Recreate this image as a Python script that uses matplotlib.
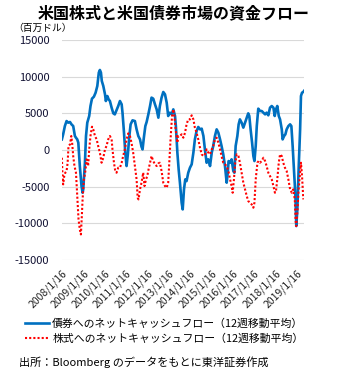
import numpy as np
import matplotlib
matplotlib.use("Agg")
import matplotlib.pyplot as plt

plt.rcParams['font.family'] = ['Noto Sans CJK JP', 'DejaVu Sans']

# 債券へのネットキャッシュフロー（12週移動平均）, 百万ドル
bond_t = [2008.04, 2008.10, 2008.18, 2008.26, 2008.34, 2008.42, 2008.49, 2008.57, 2008.65, 2008.70,
          2008.76, 2008.81, 2008.88, 2008.96, 2009.01, 2009.04, 2009.12, 2009.17, 2009.23, 2009.32,
          2009.38, 2009.45, 2009.54, 2009.62, 2009.70, 2009.77, 2009.82, 2009.87, 2009.91, 2009.98,
          2010.06, 2010.10, 2010.17, 2010.23, 2010.29, 2010.37, 2010.45, 2010.52, 2010.60, 2010.68,
          2010.76, 2010.84, 2010.88, 2010.95, 2011.01, 2011.07, 2011.13, 2011.20, 2011.26, 2011.35,
          2011.46, 2011.54, 2011.62, 2011.70, 2011.77, 2011.82, 2011.88, 2011.95, 2012.01, 2012.09,
          2012.17, 2012.24, 2012.32, 2012.40, 2012.48, 2012.56, 2012.63, 2012.71, 2012.79, 2012.87,
          2012.95, 2013.02, 2013.10, 2013.18, 2013.26, 2013.34, 2013.38, 2013.45, 2013.51, 2013.57,
          2013.65, 2013.70, 2013.76, 2013.82, 2013.88, 2013.96, 2014.04, 2014.12, 2014.20, 2014.27,
          2014.35, 2014.43, 2014.51, 2014.59, 2014.67, 2014.74, 2014.82, 2014.90, 2014.98, 2015.06,
          2015.13, 2015.21, 2015.29, 2015.37, 2015.45, 2015.52, 2015.60, 2015.68, 2015.76, 2015.81,
          2015.85, 2015.92, 2015.99, 2016.07, 2016.12, 2016.18, 2016.26, 2016.32, 2016.38, 2016.46,
          2016.54, 2016.62, 2016.70, 2016.77, 2016.82, 2016.88, 2016.95, 2017.01, 2017.06, 2017.12,
          2017.17, 2017.24, 2017.32, 2017.40, 2017.48, 2017.56, 2017.63, 2017.71, 2017.79, 2017.87,
          2017.95, 2018.01, 2018.07, 2018.13, 2018.20, 2018.26, 2018.34, 2018.38, 2018.45, 2018.51,
          2018.57, 2018.65, 2018.73, 2018.79, 2018.85, 2018.91, 2018.98, 2019.02, 2019.07, 2019.13,
          2019.20, 2019.24, 2019.29, 2019.35, 2019.38]
bond = [1450, 2140, 3270, 3950, 3730, 3820, 3500, 3270, 1910, 1680,
        1450, 1000, -2180, -4910, -5820, -5360, -1730, 1910, 3730, 4640,
        6000, 7000, 7270, 7820, 8730, 10550, 10910, 10550, 9410, 8730,
        7590, 6680, 7360, 6910, 6680, 5770, 5000, 4860, 5450, 6000,
        6680, 6230, 5090, 2360, -360, -2180, -590, 1910, 3500, 4050,
        3950, 2820, 1910, 1450, 450, 90, 1680, 3270, 3820, 4860,
        6000, 7140, 7000, 6230, 5540, 4410, 6000, 7140, 7910, 7590,
        6450, 4640, 5090, 4860, 5540, 4640, 3270, -360, -2640, -4450,
        -7180, -8090, -5360, -4000, -4230, -3090, -2410, -1950, -360, 1450,
        2590, 3140, 2820, 2910, 1910, 90, -1730, -1270, -2180, -360,
        550, 1910, 2820, 2360, 1450, 550, -590, -2180, -4450, -3090,
        -1500, -1730, -1270, -2860, -3090, 550, 1910, 3500, 4180, 3730,
        3050, 3730, 4410, 5000, 4640, 2820, 1000, -820, -1500, 550,
        3270, 5640, 5320, 5320, 5090, 4860, 5090, 4730, 5770, 6000,
        5770, 4640, 5540, 6000, 4640, 4180, 2820, 1450, 1910, 2140,
        2820, 3270, 3500, 3270, 550, -2640, -6270, -10360, -8090, -2640,
        2820, 7360, 7820, 7910, 8050]

# 株式へのネットキャッシュフロー（12週移動平均）, 百万ドル
stock_t = [2008.04, 2008.07, 2008.10, 2008.15, 2008.20, 2008.26, 2008.31, 2008.35, 2008.42, 2008.48,
           2008.52, 2008.57, 2008.63, 2008.70, 2008.76, 2008.82, 2008.88, 2008.93, 2008.96, 2009.01,
           2009.07, 2009.13, 2009.20, 2009.27, 2009.32, 2009.38, 2009.45, 2009.51, 2009.59, 2009.67,
           2009.74, 2009.82, 2009.90, 2009.98, 2010.06, 2010.13, 2010.21, 2010.29, 2010.37, 2010.41,
           2010.48, 2010.54, 2010.60, 2010.68, 2010.76, 2010.84, 2010.91, 2010.99, 2011.07, 2011.15,
           2011.23, 2011.30, 2011.38, 2011.46, 2011.54, 2011.59, 2011.63, 2011.70, 2011.77, 2011.85,
           2011.91, 2011.98, 2012.04, 2012.10, 2012.17, 2012.24, 2012.32, 2012.40, 2012.48, 2012.56,
           2012.63, 2012.71, 2012.79, 2012.87, 2012.95, 2013.02, 2013.07, 2013.13, 2013.20, 2013.26,
           2013.31, 2013.37, 2013.45, 2013.49, 2013.57, 2013.65, 2013.73, 2013.81, 2013.88, 2013.96,
           2014.04, 2014.12, 2014.20, 2014.27, 2014.35, 2014.43, 2014.51, 2014.59, 2014.67, 2014.74,
           2014.82, 2014.90, 2014.98, 2015.06, 2015.13, 2015.21, 2015.29, 2015.37, 2015.45, 2015.52,
           2015.60, 2015.68, 2015.76, 2015.84, 2015.92, 2015.99, 2016.04, 2016.10, 2016.16, 2016.23,
           2016.31, 2016.38, 2016.46, 2016.54, 2016.62, 2016.70, 2016.77, 2016.85, 2016.93, 2017.01,
           2017.06, 2017.12, 2017.20, 2017.26, 2017.32, 2017.40, 2017.48, 2017.56, 2017.63, 2017.71,
           2017.79, 2017.87, 2017.95, 2018.02, 2018.07, 2018.13, 2018.20, 2018.26, 2018.34, 2018.41,
           2018.49, 2018.57, 2018.65, 2018.73, 2018.81, 2018.88, 2018.95, 2018.99, 2019.02, 2019.07,
           2019.13, 2019.20, 2019.24, 2019.29, 2019.35]
stock = [-1050, -3550, -4680, -3550, -3090, -2860, -1730, 550, 770, 1910,
         1000, -820, -2180, -3090, -6270, -9450, -10820, -11500, -9910, -6730,
         -4000, -3090, -1270, -2180, 90, 1910, 3180, 2820, 1910, 1450,
         550, -360, -1730, -1050, 90, 550, 1450, 1910, 1450, 90,
         -1730, -2860, -3090, -2410, -2410, -1730, -820, 90, 1450, 2270,
         1910, 1000, -360, -2180, -4000, -6500, -6730, -5360, -4450, -3090,
         -4910, -4000, -3550, -2640, -1730, -820, -1500, -1950, -2180, -1820,
         -1730, -2860, -4450, -4910, -5140, -4450, -1730, 1450, 4640, 5540,
         4640, 2820, 1000, 1910, 1910, 2140, 1680, 2360, 3500, 4180,
         4180, 4730, 4180, 3050, 2360, 1450, 320, -590, -820, -590,
         90, -360, -590, 90, 550, 1450, 1680, 1000, 90, -820,
         -1730, -1950, -2180, -2860, -4000, -4910, -5820, -4000, -1730, -590,
         -820, -1730, -3090, -4450, -5360, -6270, -6950, -7180, -7410, -7860,
         -7180, -4000, -1730, -1500, -1730, -1500, -1050, -1500, -2180, -3090,
         -3550, -4000, -4910, -5820, -5590, -4000, -1730, -590, -820, -1730,
         -2410, -2860, -4000, -5360, -5820, -5360, -6730, -9680, -10360, -8550,
         -5360, -3090, -1730, -3550, -6730]

years = list(range(2008, 2020))
tick_labels = [f"{y}/1/16" for y in years]
y_ticks = [-15000, -10000, -5000, 0, 5000, 10000, 15000]

fig = plt.figure(figsize=(3.4, 3.7), dpi=100)
ax = fig.add_axes([0.182, 0.297, 0.712, 0.595])

ax.plot(bond_t, bond, color='#0070C0', lw=1.9, solid_joinstyle='round',
        label='債券へのネットキャッシュフロー（12週移動平均）')
ax.plot(stock_t, stock, color='#FF0000', lw=1.5, ls=(0, (1, 1)),
        label='株式へのネットキャッシュフロー（12週移動平均）')

ax.set_xlim(2008.04, 2019.38)
ax.set_ylim(-15000, 15000)
ax.set_yticks(y_ticks)
ax.set_yticklabels([str(v) for v in y_ticks], fontsize=8, color='#111133')
ax.set_xticks([y + 0.04 for y in years])
ax.set_xticklabels(tick_labels, rotation=45, ha='right', rotation_mode='anchor',
                   fontsize=7.5, color='#222222')
ax.tick_params(length=0, axis='both')
ax.tick_params(axis='x', pad=6)
ax.tick_params(axis='y', pad=9)
ax.grid(axis='y', color='#d9d9d9', lw=0.8)
ax.set_axisbelow(True)
for s in ax.spines.values():
    s.set_visible(False)

fig.text(0.51, 0.965, '米国株式と米国債券市場の資金フロー', ha='center', va='center',
         fontsize=11.5, fontweight='bold')
fig.text(0.04, 0.925, '（百万ドル）', ha='left', va='center', fontsize=7)

fig.legend(loc='upper left', bbox_to_anchor=(0.074, 0.14),
           frameon=False, fontsize=7.8, handlelength=2.2, handletextpad=0.3,
           labelspacing=0.45, borderaxespad=0, borderpad=0)
fig.text(0.055, 0.022, '出所：Bloomberg のデータをもとに東洋証券作成', ha='left', va='center',
         fontsize=8)

fig.savefig('out.png', dpi=100)
